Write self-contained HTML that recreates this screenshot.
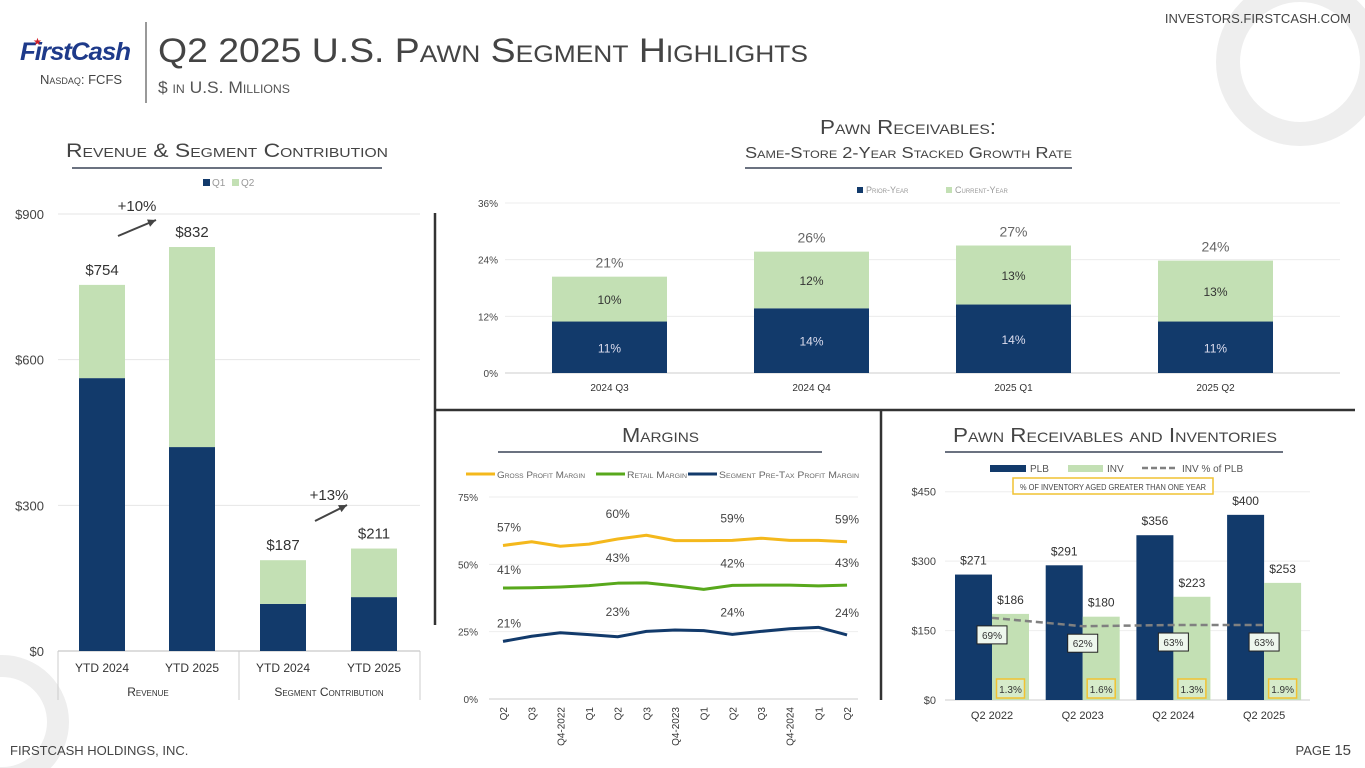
<!DOCTYPE html>
<html><head><meta charset="utf-8">
<style>
body{margin:0;width:1365px;height:768px;overflow:hidden;background:#fff;font-family:"Liberation Sans",sans-serif;}
svg{display:block}
.t{font-family:"Liberation Sans",sans-serif;}
.sc{font-variant:small-caps;}
</style></head>
<body>
<svg id="s" width="1365" height="768" viewBox="0 0 1365 768">
<circle cx="1300" cy="62" r="72" fill="none" stroke="#eeeeee" stroke-width="24"/>
<circle cx="2" cy="722" r="56" fill="none" stroke="#eeeeee" stroke-width="22"/>
<g>
<text x="20" y="60" font-size="25" font-weight="bold" font-style="italic" fill="#1e3a8a" class="t" letter-spacing="-1" textLength="110" lengthAdjust="spacingAndGlyphs">FirstCash</text>
<text x="33" y="45" font-size="10" fill="#d0202a">★</text>
<text x="40" y="84" font-size="13" fill="#444" class="t sc">Nasdaq: FCFS</text>
<line x1="146" y1="22" x2="146" y2="103" stroke="#555" stroke-width="1.2"/>
<text x="158" y="62" font-size="34" fill="#444" class="t sc" textLength="650" lengthAdjust="spacingAndGlyphs">Q2 2025 U.S. Pawn Segment Highlights</text>
<text x="158" y="93" font-size="17" fill="#555" class="t sc" textLength="132" lengthAdjust="spacingAndGlyphs">$ in U.S. Millions</text>
<text x="1351" y="23" font-size="13" fill="#444" text-anchor="end" class="t">INVESTORS.FIRSTCASH.COM</text>
</g>
<text x="10" y="755" font-size="13" fill="#444" class="t">FIRSTCASH HOLDINGS, INC.</text>
<text x="1351" y="755" font-size="13" fill="#444" text-anchor="end" class="t">PAGE <tspan font-size="15">15</tspan></text>

<text x="66" y="157" font-size="19" fill="#444" class="t sc" textLength="322" lengthAdjust="spacingAndGlyphs">Revenue &amp; Segment Contribution</text>
<line x1="72" y1="168" x2="382" y2="168" stroke="#6b7280" stroke-width="2"/>
<text x="820" y="134" font-size="20" fill="#444" class="t sc" textLength="176" lengthAdjust="spacingAndGlyphs">Pawn Receivables:</text>
<text x="745" y="158" font-size="16" fill="#444" class="t sc" textLength="327" lengthAdjust="spacingAndGlyphs">Same-Store 2-Year Stacked Growth Rate</text>
<line x1="745" y1="168" x2="1072" y2="168" stroke="#6b7280" stroke-width="2"/>
<text x="622" y="442" font-size="20" fill="#444" class="t sc" textLength="77" lengthAdjust="spacingAndGlyphs">Margins</text>
<line x1="498" y1="452" x2="822" y2="452" stroke="#6b7280" stroke-width="2"/>
<text x="953" y="442" font-size="20" fill="#444" class="t sc" textLength="324" lengthAdjust="spacingAndGlyphs">Pawn Receivables and Inventories</text>
<line x1="945" y1="452" x2="1283" y2="452" stroke="#6b7280" stroke-width="2"/>
<line x1="435" y1="213" x2="435" y2="625" stroke="#333" stroke-width="2.5"/>
<line x1="435" y1="410" x2="1355" y2="410" stroke="#333" stroke-width="2.5"/>
<line x1="881" y1="410" x2="881" y2="700" stroke="#333" stroke-width="2.5"/>
<g id="c1"></g><g id="c2"></g><g id="c3"></g><g id="c4"></g>
</svg>
<script>
// Chart 1: Revenue & segment contribution
const revCats = ["YTD 2024","YTD 2025","YTD 2024","YTD 2025"];
const revQ1 = [562, 420, 97, 111];
const revQ2 = [192, 412, 90, 100];
const revTotals = ["$754","$832","$187","$211"];
const revTicks = [0,300,600,900];
const revTickLabels = ["$0","$300","$600","$900"];
// Chart 2: receivables growth
const grCats = ["2024 Q3","2024 Q4","2025 Q1","2025 Q2"];
const grPrior = [10.9, 13.7, 14.5, 10.9];
const grCur = [9.5, 12.0, 12.5, 12.9];
const grPriorLbl = ["11%","14%","14%","11%"];
const grCurLbl = ["10%","12%","13%","13%"];
const grTotLbl = ["21%","26%","27%","24%"];
const grTicks = [0,12,24,36];
// Chart 3: margins
const mCats = ["Q2","Q3","Q4-2022","Q1","Q2","Q3","Q4-2023","Q1","Q2","Q3","Q4-2024","Q1","Q2"];
const mGross = [57.0,58.4,56.7,57.5,59.4,60.8,58.8,58.8,58.9,59.7,58.9,58.9,58.4];
const mRetail = [41.2,41.3,41.6,42.1,43.0,43.1,42.0,40.7,42.2,42.3,42.3,42.0,42.3];
const mSeg = [21.4,23.3,24.6,23.9,23.1,25.1,25.6,25.4,24.0,25.1,26.1,26.6,23.8];
const mGrossLbl = ["57%","60%","59%","59%"];
const mRetailLbl = ["41%","43%","42%","43%"];
const mSegLbl = ["21%","23%","24%","24%"];
const mLblIdx = [0,4,8,12];
const mTicks = [0,25,50,75];
// Chart 4: PLB / INV
const piCats = ["Q2 2022","Q2 2023","Q2 2024","Q2 2025"];
const piPLB = [271,291,356,400];
const piINV = [186,180,223,253];
const piPct = [69,62,63,63];
const piAged = ["1.3%","1.6%","1.3%","1.9%"];
const piTicks = [0,150,300,450];

const NS="http://www.w3.org/2000/svg";
function mk(parent,tag,attrs,txt){const e=document.createElementNS(NS,tag);for(const k in attrs)e.setAttribute(k,attrs[k]);if(txt!==undefined)e.textContent=txt;parent.appendChild(e);return e;}
const NAVY="#123a6b", GREEN="#c3e0b4";

(function(){
 const g=document.getElementById('c1');
 const y=v=>651-v*(437/900);
 const xs=[79,169,260,351], bw=46;
 revTicks.forEach((t,i)=>{
  if(i>0){mk(g,'line',{x1:58,x2:420,y1:y(t),y2:y(t),stroke:'#e6e6e6'});}
  const tl=mk(g,'text',{x:44,y:y(t)+5,'font-size':13,fill:'#444','text-anchor':'end'},revTickLabels[i]);
  
  
 });
 mk(g,'line',{x1:58,x2:420,y1:651,y2:651,stroke:'#bbb'});
 mk(g,'line',{x1:58,x2:58,y1:651,y2:700,stroke:'#ccc'});
 mk(g,'line',{x1:239,x2:239,y1:651,y2:700,stroke:'#ccc'});
 mk(g,'line',{x1:420,x2:420,y1:651,y2:700,stroke:'#ccc'});
 revCats.forEach((c,i)=>{
  const x=xs[i];
  const b1=mk(g,'rect',{x:x,y:y(revQ1[i]),width:bw,height:651-y(revQ1[i]),fill:NAVY});
  
  
  const tot=revQ1[i]+revQ2[i];
  const b2=mk(g,'rect',{x:x,y:y(tot),width:bw,height:y(revQ1[i])-y(tot),fill:GREEN});
  
  
  const tl=mk(g,'text',{x:x+bw/2,y:y(tot)-10,'font-size':15,fill:'#333','text-anchor':'middle'},revTotals[i]);
  
  
  const cl=mk(g,'text',{x:x+bw/2,y:672,'font-size':12,fill:'#333','text-anchor':'middle'},c);
  
  
 });
 const g1=mk(g,'text',{x:148,y:696,'font-size':12,fill:'#333','text-anchor':'middle','class':'sc'},'Revenue');
 
 
 const g2=mk(g,'text',{x:329,y:696,'font-size':12,fill:'#333','text-anchor':'middle','class':'sc'},'Segment Contribution');
 
 
 mk(g,'rect',{x:203,y:179,width:7,height:7,fill:NAVY});
 mk(g,'text',{x:212,y:186,'font-size':10,fill:'#999'},'Q1');
 mk(g,'rect',{x:232,y:179,width:7,height:7,fill:GREEN});
 mk(g,'text',{x:241,y:186,'font-size':10,fill:'#999'},'Q2');
 [[118,236,156,220,137,211,'+10%'],[315,521,347,505,329,500,'+13%']].forEach(a=>{
  mk(g,'line',{x1:a[0],y1:a[1],x2:a[2],y2:a[3],stroke:'#444','stroke-width':2});
  const ang=Math.atan2(a[3]-a[1],a[2]-a[0]);
  const p=[[a[2],a[3]],[a[2]-9*Math.cos(ang-0.45),a[3]-9*Math.sin(ang-0.45)],[a[2]-9*Math.cos(ang+0.45),a[3]-9*Math.sin(ang+0.45)]];
  mk(g,'polygon',{points:p.map(q=>q.join(',')).join(' '),fill:'#444'});
  const t=mk(g,'text',{x:a[4],y:a[5],'font-size':15,fill:'#333','text-anchor':'middle'},a[6]);
  
  
 });
})();

(function(){
 const g=document.getElementById('c2');
 const y=v=>373-v*(170/36);
 const xs=[552,754,956,1158], bw=115;
 grTicks.forEach(t=>{
  mk(g,'line',{x1:505,x2:1340,y1:y(t),y2:y(t),stroke:t?'#ececec':'#ccc'});
  const tl=mk(g,'text',{x:498,y:y(t)+4,'font-size':10,fill:'#444','text-anchor':'end'},t+'%');
  
  
 });
 grCats.forEach((c,i)=>{
  const x=xs[i];
  const b1=mk(g,'rect',{x:x,y:y(grPrior[i]),width:bw,height:373-y(grPrior[i]),fill:NAVY});
  
  
  const tot=grPrior[i]+grCur[i];
  const b2=mk(g,'rect',{x:x,y:y(tot),width:bw,height:y(grPrior[i])-y(tot),fill:GREEN});
  
  
  mk(g,'text',{x:x+bw/2,y:(y(grPrior[i])+373)/2+5,'font-size':12,fill:'#dde','text-anchor':'middle'},grPriorLbl[i]);
  mk(g,'text',{x:x+bw/2,y:(y(tot)+y(grPrior[i]))/2+5,'font-size':12,fill:'#333','text-anchor':'middle'},grCurLbl[i]);
  const tl=mk(g,'text',{x:x+bw/2,y:y(tot)-9,'font-size':14,fill:'#666','text-anchor':'middle'},grTotLbl[i]);
  
  
  mk(g,'text',{x:x+bw/2,y:391,'font-size':10,fill:'#333','text-anchor':'middle'},c);
 });
 mk(g,'rect',{x:857,y:187,width:6,height:6,fill:NAVY});
 mk(g,'text',{x:866,y:193,'font-size':9,fill:'#999','class':'sc'},'Prior-Year');
 mk(g,'rect',{x:946,y:187,width:6,height:6,fill:GREEN});
 mk(g,'text',{x:955,y:193,'font-size':9,fill:'#999','class':'sc'},'Current-Year');
})();

(function(){
 const g=document.getElementById('c3');
 const y=v=>699-v*(202/75);
 const x=i=>503+i*28.67;
 mTicks.forEach(t=>{
  mk(g,'line',{x1:489,x2:858,y1:y(t),y2:y(t),stroke:t?'#eeeeee':'#ccc'});
  const tl=mk(g,'text',{x:478,y:y(t)+4,'font-size':10,fill:'#444','text-anchor':'end'},t+'%');
  
  
 });
 const series=[[mGross,'#f4b81c',mGrossLbl,'gross-profit-line'],[mRetail,'#58a81c',mRetailLbl,'retail-margin-line'],[mSeg,'#123a6b',mSegLbl,'segment-margin-line']];
 series.forEach(s=>{
  const p=mk(g,'polyline',{points:s[0].map((v,i)=>x(i)+','+y(v)).join(' '),fill:'none',stroke:s[1],'stroke-width':3,'stroke-linejoin':'round'});
  
  
  mLblIdx.forEach((idx,k)=>{
   const lift=(idx===0)?14:(idx===4?21:18);
   mk(g,'text',{x:x(idx)+(idx===0?1:0),y:y(s[0][idx])-lift,'font-size':12,fill:'#444','text-anchor':idx===0?'start':'middle','dx':idx===0?-7:0},s[2][k]);
  });
 });
 mCats.forEach((c,i)=>{
  const t=mk(g,'text',{x:0,y:0,'font-size':10,fill:'#333','text-anchor':'end',transform:`translate(${x(i)+4},707) rotate(-90)`},c);
  
  
 });
 const leg=[[466,'#f4b81c','Gross Profit Margin',88],[596,'#58a81c','Retail Margin',60],[688,'#123a6b','Segment Pre-Tax Profit Margin',140]];
 leg.forEach(l=>{
  mk(g,'line',{x1:l[0],x2:l[0]+29,y1:474,y2:474,stroke:l[1],'stroke-width':3});
  mk(g,'text',{x:l[0]+31,y:478,'font-size':9,fill:'#666','class':'sc',textLength:l[3],lengthAdjust:'spacingAndGlyphs'},l[2]);
 });
})();

(function(){
 const g=document.getElementById('c4');
 const y=v=>700-v*(208.3/450);
 const yp=p=>700-p*1.19;
 const gx=i=>955+i*90.7, bw=37;
 piTicks.forEach(t=>{
  mk(g,'line',{x1:945,x2:1310,y1:y(t),y2:y(t),stroke:t?'#eeeeee':'#ccc'});
  const tl=mk(g,'text',{x:936,y:y(t)+4,'font-size':11,fill:'#444','text-anchor':'end'},'$'+t);
  
  
 });
 piCats.forEach((c,i)=>{
  const x=gx(i);
  const b1=mk(g,'rect',{x:x,y:y(piPLB[i]),width:bw,height:700-y(piPLB[i]),fill:NAVY});
  
  
  const b2=mk(g,'rect',{x:x+bw,y:y(piINV[i]),width:bw,height:700-y(piINV[i]),fill:GREEN});
  
  
  mk(g,'text',{x:x+bw/2,y:y(piPLB[i])-10,'font-size':12,fill:'#333','text-anchor':'middle'},'$'+piPLB[i]);
  mk(g,'text',{x:x+bw*1.5,y:y(piINV[i])-10,'font-size':12,fill:'#333','text-anchor':'middle'},'$'+piINV[i]);
  mk(g,'text',{x:x+bw,y:719,'font-size':11,fill:'#333','text-anchor':'middle'},c);
  mk(g,'rect',{x:x+bw*1.5-14,y:679,width:28,height:19,fill:'#d6ebca',stroke:'#f1c232','stroke-width':1.5});
  const a=mk(g,'text',{x:x+bw*1.5,y:693,'font-size':10,fill:'#333','text-anchor':'middle'},piAged[i]);
  
  
 });
 const lp=mk(g,'polyline',{points:piPct.map((p,i)=>(gx(i)+bw)+','+yp(p)).join(' '),fill:'none',stroke:'#808080','stroke-width':2.5,'stroke-dasharray':'7,4'});
 
 
 piPct.forEach((p,i)=>{
  const cx=gx(i)+bw;
  mk(g,'rect',{x:cx-15,y:yp(p)+8,width:30,height:18,fill:'#eef7ee',stroke:'#222','stroke-width':1});
  mk(g,'text',{x:cx,y:yp(p)+21,'font-size':10,fill:'#333','text-anchor':'middle'},p+'%');
 });
 mk(g,'rect',{x:990,y:465,width:36,height:7,fill:NAVY});
 mk(g,'text',{x:1030,y:472,'font-size':10,fill:'#555'},'PLB');
 mk(g,'rect',{x:1068,y:465,width:35,height:7,fill:GREEN});
 mk(g,'text',{x:1107,y:472,'font-size':10,fill:'#555'},'INV');
 mk(g,'line',{x1:1142,x2:1178,y1:468,y2:468,stroke:'#808080','stroke-width':2.5,'stroke-dasharray':'6,3'});
 mk(g,'text',{x:1182,y:472,'font-size':10,fill:'#555'},'INV % of PLB');
 mk(g,'rect',{x:1013,y:478,width:200,height:16,fill:'#fff',stroke:'#f1c232','stroke-width':1.5});
 mk(g,'text',{x:1113,y:490,'font-size':8,fill:'#444','text-anchor':'middle',textLength:186,lengthAdjust:'spacingAndGlyphs'},'% OF INVENTORY AGED GREATER THAN ONE YEAR');
})();
</script>
</body></html>
